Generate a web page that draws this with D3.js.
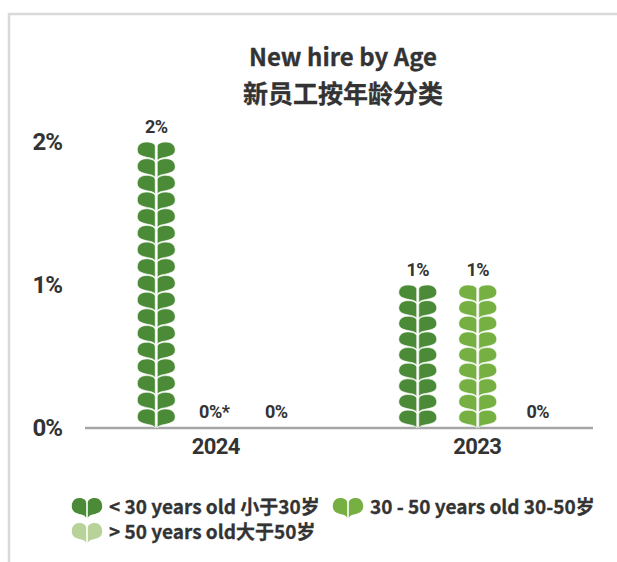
<!DOCTYPE html>
<html>
<head>
<meta charset="utf-8">
<script src="https://cdn.jsdelivr.net/npm/d3@7"></script>
<style>
  html, body { margin: 0; padding: 0; background: #fff; }
  text { font-family: "Noto Sans CJK SC", "Noto Sans", sans-serif; font-weight: 700; fill: #333; }
  text.num { font-family: Roboto, sans-serif; }
  text.heavy { stroke: #333; stroke-width: 0.3px; }
</style>
</head>
<body>
<div id="chart"></div>
<script>
// data
var years = ["2024", "2023"];
var groups = ["young", "middle", "old"];
var groupLabels = ["< 30 years old 小于30岁", "30 - 50 years old 30-50岁", "> 50 years old大于50岁"];
var groupColors = ["#4b8b37", "#76b043", "#b8d39a"];
var values = [[2, 0, 0], [1, 1, 0]];
var valueLabels = [["2%", "0%*", "0%"], ["1%", "1%", "0%"]];
var leafRows = [[17, 0, 0], [9, 9, 0]];
var yTicks = [0, 1, 2];

var width = 617, height = 562;

var svg = d3.select("#chart").append("svg")
    .attr("width", width)
    .attr("height", height)
    .style("display", "block");

// card border, only top and left show
svg.append("path")
    .attr("d", "M9,562V14H617")
    .attr("fill", "none")
    .attr("stroke", "#d9d9d9")
    .attr("stroke-width", 2.5);

// title
svg.append("text").attr("class", "heavy").attr("x", 343).attr("y", 66)
    .style("text-anchor", "middle").style("font-size", "24px").text("New hire by Age");
svg.append("text").attr("class", "heavy").attr("x", 343).attr("y", 103)
    .style("text-anchor", "middle").style("font-size", "25px").text("新员工按年龄分类");

var x0 = d3.scaleBand().domain(years).range([85, 608]).paddingInner(0).paddingOuter(0);
var x1 = d3.scalePoint().domain(groups).range([-59, 61]);
var y = d3.scaleLinear().domain([0, 2]).range([428, 142]);

// y axis labels
var yAxis = svg.append("g").attr("transform", "translate(62,0)")
    .call(d3.axisLeft(y).tickValues(yTicks).tickSize(0).tickFormat(function(d) { return d + "%"; }));
yAxis.select(".domain").remove();
yAxis.selectAll("text").attr("class", "num").attr("x", 0).attr("dy", "0.3em")
    .style("text-anchor", "end").style("font-size", "24px").style("letter-spacing", "-1px").attr("fill", null);

// x axis
var xAxis = svg.append("g").attr("transform", "translate(0,428)")
    .call(d3.axisBottom(x0).tickSize(0).tickPadding(7));
xAxis.select(".domain").remove();
xAxis.selectAll("text").attr("class", "num").style("font-size", "22px").style("letter-spacing", "-0.6px")
    .attr("fill", null).attr("dy", "0.85em");
svg.append("line").attr("x1", 85).attr("x2", 593).attr("y1", 428).attr("y2", 428)
    .attr("stroke", "#a6a6a6").attr("stroke-width", 2.5);

// one pair of leaves, unit box is 38 wide and 20 tall with the tip at 0,20
var leafHalf = function(s) {
  return "M" + s + ",5 C" + s + ",1.5 " + 5*s + ",0 " + 10*s + ",0 " +
         "C" + 15*s + ",0 " + 19*s + ",3 " + 19*s + ",8.5 " +
         "C" + 19*s + ",14.5 " + 12*s + ",15.5 " + 6*s + ",16.8 " +
         "C" + 3.5*s + ",17.4 " + 1.5*s + ",18.5 " + s + ",20 Z";
};
var leafPair = leafHalf(-1) + leafHalf(1);

years.forEach(function(year, i) {
  var cx = x0(year) + x0.bandwidth() / 2 - 0.5;
  groups.forEach(function(g, j) {
    var gx = cx + x1(g);
    var v = values[i][j];
    var n = leafRows[i][j];
    var pxTop = y(v), pxBottom = y(0);
    var rowH = n ? (pxBottom - pxTop) / (n + 0.14) : 0;

    // bottom row first so the tip of each row sits over the one below
    svg.append("g").selectAll("path")
        .data(d3.range(n))
        .enter()
        .append("path")
          .attr("d", leafPair)
          .attr("fill", groupColors[j])
          .attr("stroke", "#fff")
          .attr("stroke-width", 0.7)
          .attr("transform", function(r) {
            var tipY = pxBottom - r * rowH;
            return "translate(" + gx + "," + tipY + ") scale(1," + (rowH * 1.14 / 20) + ") translate(0,-20)";
          });

    svg.append("text")
        .attr("class", "num")
        .attr("x", gx + (v == 0 && j == 1 ? -2 : 0))
        .attr("y", v > 0 ? pxTop - 9 : 418)
        .style("text-anchor", "middle")
        .style("font-size", "18px")
        .style("letter-spacing", "-0.5px")
        .text(valueLabels[i][j]);
  });
});

// handmade legend
var legendX = [87, 348, 87];
var legendTextX = [109, 370, 109];
var legendY = [508, 508, 533];
groups.forEach(function(g, j) {
  svg.append("path")
      .attr("d", leafPair)
      .attr("fill", groupColors[j])
      .attr("transform", "translate(" + legendX[j] + "," + (legendY[j] + 10) + ") scale(0.8,1) translate(0,-20)");
  svg.append("text")
      .attr("class", "heavy")
      .attr("x", legendTextX[j])
      .attr("y", legendY[j] + 6)
      .style("font-size", "19px")
      .text(groupLabels[j]);
});
</script>
</body>
</html>
